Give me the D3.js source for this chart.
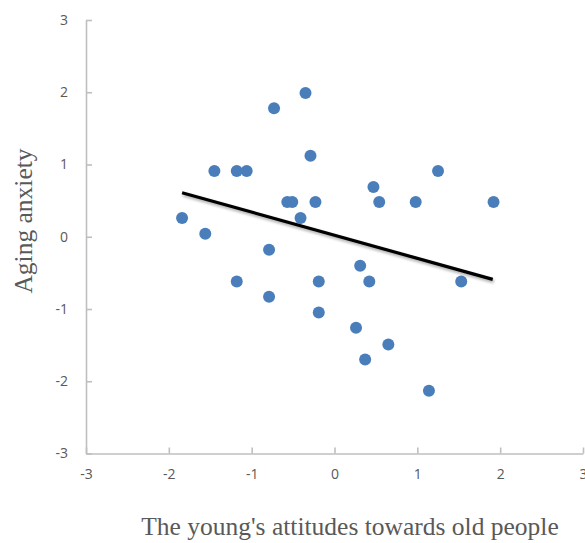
<!DOCTYPE html>
<html>
<head>
<meta charset="utf-8">
<script src="https://cdn.jsdelivr.net/npm/d3@7"></script>
<style>
  html, body { margin: 0; padding: 0; background: #fff; }
  svg { display: block; }
</style>
</head>
<body>
<svg id="chart" width="585" height="543"></svg>
<script>
// Data
const xValues = [-1.84, -1.56, -1.45, -1.18, -1.06, -1.18, -0.79, -0.79, -0.73, -0.57, -0.51, -0.41, -0.35, -0.29, -0.23, -0.19, -0.19, 0.26, 0.31, 0.37, 0.42, 0.47, 0.54, 0.65, 0.98, 1.14, 1.25, 1.53, 1.92];
const yValues = [0.26, 0.04, 0.91, 0.91, 0.91, -0.62, -0.18, -0.83, 1.78, 0.48, 0.48, 0.26, 1.99, 1.12, 0.48, -0.62, -1.05, -1.26, -0.40, -1.70, -0.62, 0.69, 0.48, -1.49, 0.48, -2.13, 0.91, -0.62, 0.48];
const trendX = [-1.84, 1.91];
const trendY = [0.61, -0.59];
const xTicks = [-3, -2, -1, 0, 1, 2, 3];
const yTicks = [-3, -2, -1, 0, 1, 2, 3];
const xTitle = "The young's attitudes towards old people";
const yTitle = "Aging anxiety";

const svg = d3.select("#chart");
const x = d3.scaleLinear().domain([-3, 3]).range([86, 583]);
const y = d3.scaleLinear().domain([-3, 3]).range([453.5, 20]);

const axisColor = "#bfbfbf";
const labelColor = "#595959";
const tickFont = "'Open Sans', 'Liberation Sans', sans-serif";

// X axis (ticks pointing up, into the plot)
const gx = svg.append("g").attr("transform", `translate(0,${y(-3)})`)
  .call(d3.axisBottom(x).tickValues(xTicks).tickSizeInner(-6).tickSizeOuter(0).tickPadding(16).tickFormat(d3.format("d")));
gx.select(".domain").attr("stroke", axisColor).attr("stroke-width", 1.6);
gx.selectAll(".tick line").attr("stroke", axisColor).attr("stroke-width", 1.6);
gx.selectAll(".tick text").attr("fill", labelColor).attr("font-family", tickFont).attr("font-size", 14).text(d => d < 0 ? "-" + Math.abs(d) : d);

// Y axis (ticks pointing right, into the plot)
const gy = svg.append("g").attr("transform", `translate(${x(-3)},0)`)
  .call(d3.axisLeft(y).tickValues(yTicks).tickSizeInner(-6).tickSizeOuter(0).tickPadding(18).tickFormat(d3.format("d")));
gy.select(".domain").attr("stroke", axisColor).attr("stroke-width", 1.6);
gy.selectAll(".tick line").attr("stroke", axisColor).attr("stroke-width", 1.6);
gy.selectAll(".tick text").attr("fill", labelColor).attr("font-family", tickFont).attr("font-size", 14).text(d => d < 0 ? "-" + Math.abs(d) : d);

// Points
const pts = xValues.map((v, i) => ({x: v, y: yValues[i]}));
svg.append("g").selectAll("circle").data(pts).join("circle")
  .attr("cx", d => x(d.x)).attr("cy", d => y(d.y)).attr("r", 6)
  .attr("fill", "#4a7ebb");

// Trend line with soft shadow
const defs = svg.append("defs");
const f = defs.append("filter").attr("id", "sh").attr("x", "-10%").attr("y", "-50%").attr("width", "120%").attr("height", "300%");
f.append("feGaussianBlur").attr("in", "SourceAlpha").attr("stdDeviation", 1.5).attr("result", "b");
f.append("feOffset").attr("in", "b").attr("dx", 1).attr("dy", 2).attr("result", "o");
f.append("feComponentTransfer").attr("in", "o").attr("result", "o2").append("feFuncA").attr("type", "linear").attr("slope", 0.35);
const m = f.append("feMerge");
m.append("feMergeNode").attr("in", "o2");
m.append("feMergeNode").attr("in", "SourceGraphic");

const line = d3.line().x(d => x(d[0])).y(d => y(d[1]));
svg.append("path").datum(trendX.map((v, i) => [v, trendY[i]]))
  .attr("d", line).attr("stroke", "#000").attr("stroke-width", 3.2).attr("fill", "none")
  .attr("filter", "url(#sh)");

// Axis titles
svg.append("text").attr("x", 350).attr("y", 535).attr("text-anchor", "middle")
  .attr("font-family", "'Liberation Serif', 'Times New Roman', serif").attr("font-size", 25.5)
  .attr("fill", labelColor).text(xTitle);
svg.append("text").attr("transform", "translate(32,221) rotate(-90)").attr("text-anchor", "middle")
  .attr("font-family", "'Liberation Serif', 'Times New Roman', serif").attr("font-size", 25.5)
  .attr("fill", labelColor).text(yTitle);
</script>
</body>
</html>
